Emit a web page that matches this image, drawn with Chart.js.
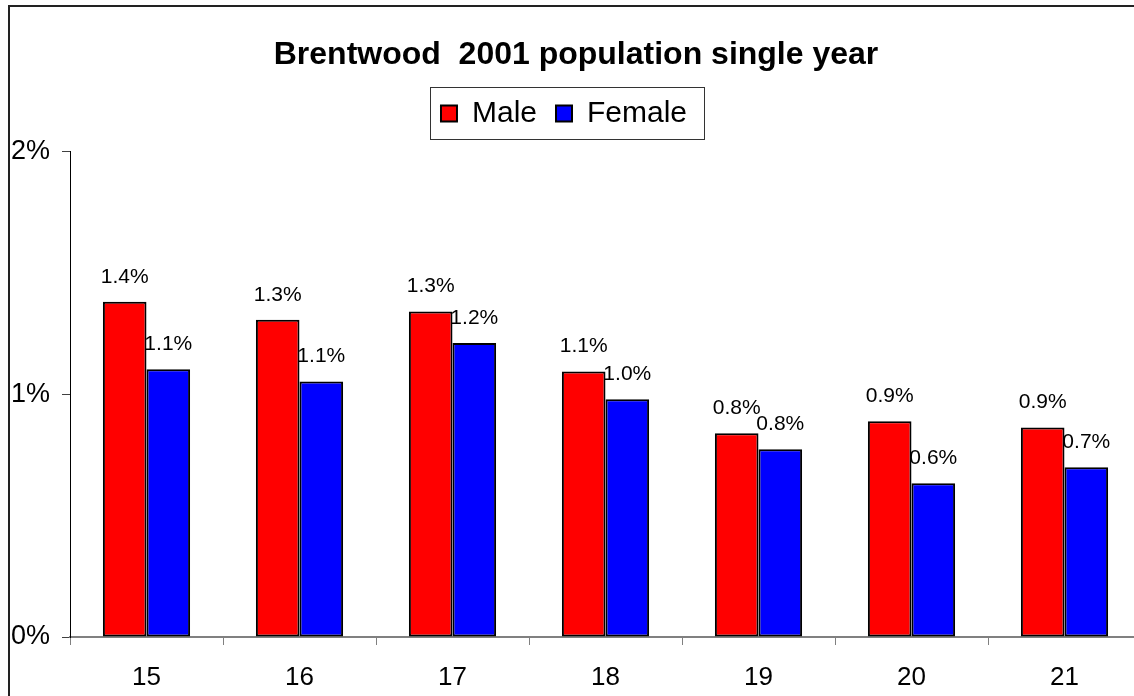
<!DOCTYPE html>
<html>
<head>
<meta charset="utf-8">
<title>Brentwood 2001 population single year</title>
<script src="https://cdn.jsdelivr.net/npm/chart.js@4/dist/chart.umd.min.js"></script>
<style>
  body { margin: 0; background: #fff; overflow: hidden; }
  #wrap { position: relative; width: 1145px; height: 696px; }
</style>
</head>
<body>
<div id="wrap"><canvas id="grafico"></canvas></div>
<script>
const edades = ['15', '16', '17', '18', '19', '20', '21'];
const hombres = [1.382, 1.308, 1.342, 1.095, 0.840, 0.889, 0.864];
const mujeres = [1.104, 1.053, 1.212, 0.980, 0.774, 0.634, 0.700];
const ticksY = [0, 1, 2];

const fuente = 'Liberation Sans, Arial, sans-serif';
Chart.defaults.color = '#000';
Chart.defaults.font.family = fuente;

// etiquetas de valor encima de cada barra
const etiquetas = {
  id: 'etiquetas',
  afterDatasetsDraw(chart) {
    const ctx = chart.ctx;
    ctx.save();
    ctx.font = '21px ' + fuente;
    ctx.fillStyle = '#000';
    ctx.textAlign = 'center';
    ctx.textBaseline = 'middle';
    chart.data.datasets.forEach((ds, i) => {
      chart.getDatasetMeta(i).data.forEach((bar, j) => {
        ctx.fillText(ds.data[j].toFixed(1) + '%', bar.x, bar.y - 25);
      });
    });
    ctx.restore();
  }
};

// marco de la leyenda y borde exterior
const marcos = {
  id: 'marcos',
  beforeInit(chart) {
    const fit = chart.legend.fit;
    chart.legend.fit = function () {
      fit.call(this);
      this.height += 13.5;
    };
  },
  afterLayout(chart) {
    // la leyenda va un poco a la izquierda del título
    chart.legend.left -= 12;
    chart.legend.right -= 12;
  },
  afterDraw(chart) {
    const ctx = chart.ctx;
    const hb = chart.legend.legendHitBoxes;
    ctx.save();
    if (hb && hb.length) {
      const l = hb[0].left - 11;
      const last = hb[hb.length - 1];
      const r = last.left + last.width + 17;
      const mid = hb[0].top + hb[0].height / 2;
      ctx.strokeStyle = '#333';
      ctx.lineWidth = 1;
      ctx.strokeRect(Math.round(l) + 0.5, Math.round(mid - 26) + 0.5, Math.round(r - l), 52);
    }
    ctx.strokeStyle = '#222';
    ctx.lineWidth = 2;
    ctx.strokeRect(9, 6, 2000, 2000);
    ctx.restore();
  }
};

new Chart(document.getElementById('grafico'), {
  type: 'bar',
  data: {
    labels: edades,
    datasets: [
      {
        label: 'Male',
        data: hombres,
        backgroundColor: '#ff0000',
        borderColor: '#000',
        borderWidth: 2,
        borderSkipped: false
      },
      {
        label: 'Female',
        data: mujeres,
        backgroundColor: '#0000ff',
        borderColor: '#000',
        borderWidth: 2,
        borderSkipped: false
      }
    ]
  },
  options: {
    responsive: true,
    maintainAspectRatio: false,
    animation: false,
    layout: { padding: { left: 11, right: 4, top: 0, bottom: 0 } },
    datasets: { bar: { categoryPercentage: 0.57, barPercentage: 1 } },
    plugins: {
      title: {
        display: true,
        text: 'Brentwood  2001 population single year',
        font: { size: 32, weight: 'bold', family: fuente },
        color: '#000',
        padding: { top: 36, bottom: 5 }
      },
      legend: {
        display: true,
        position: 'top',
        labels: {
          font: { size: 30, family: fuente },
          boxWidth: 16,
          boxHeight: 16,
          padding: 19,
          color: '#000'
        }
      },
      tooltip: { enabled: false }
    },
    scales: {
      x: {
        grid: {
          display: true,
          offset: true,
          drawOnChartArea: false,
          drawTicks: true,
          tickLength: 8,
          tickColor: '#808080'
        },
        border: { display: true, color: '#808080', width: 2 },
        ticks: { font: { size: 26, family: fuente }, color: '#000', padding: 17 },
        afterFit(scale) { scale.height = 59; }
      },
      y: {
        min: 0,
        max: 2,
        afterBuildTicks(scale) { scale.ticks = ticksY.map(v => ({ value: v })); },
        grid: {
          drawOnChartArea: false,
          drawTicks: true,
          tickLength: 8,
          tickColor: '#404040'
        },
        border: { display: true, color: '#000', width: 1 },
        ticks: {
          font: { size: 27, family: fuente },
          color: '#000',
          crossAlign: 'far',
          callback: v => v + '%'
        },
        afterFit(scale) { scale.width = 59; }
      }
    }
  },
  plugins: [etiquetas, marcos]
});
</script>
</body>
</html>
